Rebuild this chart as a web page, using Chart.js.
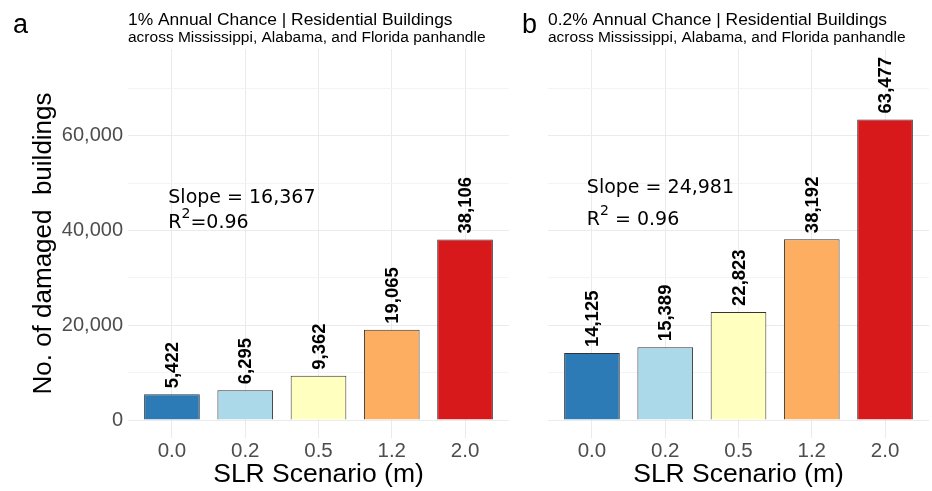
<!DOCTYPE html>
<html>
<head>
<meta charset="utf-8">
<script src="https://cdn.jsdelivr.net/npm/chart.js@4.4.1/dist/chart.umd.min.js"></script>
<style>
  html, body { margin: 0; padding: 0; background: #fff; }
  #wrap { position: relative; width: 932px; height: 491px; }
  canvas { position: absolute; top: 0; }
</style>
</head>
<body>
<div id="wrap">
  <canvas id="panelA" width="515" height="491" style="left:0"></canvas>
  <canvas id="panelB" width="417" height="491" style="left:515px"></canvas>
</div>
<script>
// data
const scenarios = ['0.0', '0.2', '0.5', '1.2', '2.0'];
const damaged1pct = [5422, 6295, 9362, 19065, 38106];
const damaged02pct = [14125, 15389, 22823, 38192, 63477];
const barColors = ['#2c7bb6', '#abd9e9', '#ffffbf', '#fdae61', '#d7191c'];
const yGridValues = [0, 10000, 20000, 30000, 40000, 50000, 60000, 70000];
const panelLetters = ['a', 'b'];
const panelTitles = ['1% Annual Chance | Residential Buildings', '0.2% Annual Chance | Residential Buildings'];
const panelSubtitle = 'across Mississippi, Alabama, and Florida panhandle';
const slopes = [16367, 24981];
const rSquared = ['0.96', '0.96'];

const SANS = "'Liberation Sans', Arial, Helvetica, sans-serif";
const VERDANA = "'DejaVu Sans', Verdana, sans-serif";
Chart.defaults.font.family = SANS;
Chart.defaults.animation = false;

const fmt = v => v.toLocaleString('en-US');

// rotated value labels above bars
const barLabels = {
  id: 'barLabels',
  afterDatasetsDraw(chart) {
    const ctx = chart.ctx;
    const meta = chart.getDatasetMeta(0);
    const data = chart.data.datasets[0].data;
    ctx.save();
    ctx.font = 'bold 18.5px ' + SANS;
    ctx.fillStyle = '#000';
    ctx.textAlign = 'left';
    ctx.textBaseline = 'middle';
    meta.data.forEach((bar, i) => {
      ctx.save();
      ctx.translate(bar.x + 1, bar.y - 6);
      ctx.rotate(-Math.PI / 2);
      ctx.fillText(fmt(data[i].y), 0, 0);
      ctx.restore();
    });
    ctx.restore();
  }
};

// panel letter, titles and slope / R2 note
const panelDecor = {
  id: 'panelDecor',
  afterDraw(chart, args, opts) {
    const ctx = chart.ctx;
    const area = chart.chartArea;
    const xs = chart.scales.x, ys = chart.scales.y;
    ctx.save();
    ctx.fillStyle = '#000';
    ctx.textAlign = 'left';
    ctx.textBaseline = 'alphabetic';

    ctx.font = '27px ' + SANS;
    ctx.fillText(opts.letter, opts.letterX, 33);

    ctx.font = '17.4px ' + SANS;
    ctx.fillText(opts.title, area.left, 25);
    ctx.font = '15.5px ' + SANS;
    ctx.fillText(opts.subtitle, area.left, 42);

    const nx = xs.getPixelForValue(opts.noteX);
    ctx.font = '19px ' + VERDANA;
    ctx.fillText('Slope = ' + fmt(opts.slope), nx, ys.getPixelForValue(opts.slopeY));

    const ry = ys.getPixelForValue(opts.r2Y);
    ctx.fillText('R', nx, ry);
    let w = ctx.measureText('R').width;
    ctx.font = '14px ' + VERDANA;
    ctx.fillText('2', nx + w, ry - 10);
    w += ctx.measureText('2').width;
    ctx.font = '19px ' + VERDANA;
    ctx.fillText(opts.r2Text, nx + w, ry);
    ctx.restore();
  }
};

function makePanel(canvasId, values, idx, showY) {
  return new Chart(document.getElementById(canvasId), {
    type: 'bar',
    data: {
      datasets: [{
        data: scenarios.map((s, i) => ({ x: i, y: values[i] })),
        backgroundColor: barColors,
        borderColor: '#333333',
        borderWidth: 1,
        categoryPercentage: 1,
        barPercentage: 0.76
      }]
    },
    options: {
      responsive: false,
      layout: { padding: { left: 0, top: 49, right: showY ? 6 : 3, bottom: 0 } },
      plugins: {
        legend: { display: false },
        tooltip: { enabled: false },
        panelDecor: {
          letter: panelLetters[idx],
          letterX: showY ? 13 : 7,
          title: panelTitles[idx],
          subtitle: panelSubtitle,
          slope: slopes[idx],
          r2Text: idx === 0 ? '=' + rSquared[idx] : ' = ' + rSquared[idx],
          noteX: idx === 0 ? -0.05 : -0.07,
          slopeY: idx === 0 ? 45800 : 47900,
          r2Y: idx === 0 ? 40500 : 41200
        }
      },
      scales: {
        x: {
          type: 'linear',
          min: -0.6,
          max: 4.6,
          offset: false,
          grid: { color: '#ebebeb', drawTicks: false, offset: false },
          border: { display: false },
          afterBuildTicks: s => { s.ticks = scenarios.map((c, i) => ({ value: i })); },
          ticks: {
            autoSkip: false,
            maxRotation: 0,
            padding: 1,
            color: '#4d4d4d',
            font: { size: 20.5 },
            callback: v => scenarios[v] ?? ''
          },
          title: {
            display: true,
            text: 'SLR Scenario (m)',
            color: '#000',
            font: { size: 26.5 },
            padding: { top: 0, bottom: 0 }
          },
          afterFit: s => { s.height = 53; }
        },
        y: {
          min: -3800,
          max: 78350,
          grid: {
            color: c => c.tick && c.tick.value % 20000 === 0 ? '#ebebeb' : '#f4f4f4',
            drawTicks: false
          },
          border: { display: false },
          afterBuildTicks: s => { s.ticks = yGridValues.map(v => ({ value: v })); },
          ticks: {
            display: showY,
            autoSkip: false,
            padding: 5,
            color: '#4d4d4d',
            font: { size: 20 },
            callback: v => v % 20000 === 0 ? fmt(v) : ''
          },
          title: {
            display: showY,
            text: 'No. of damaged  buildings',
            color: '#000',
            font: { size: 26 },
            padding: { top: 28, bottom: 0 }
          },
          afterFit: s => { s.width = showY ? 128 : 33; }
        }
      }
    },
    plugins: [barLabels, panelDecor]
  });
}

makePanel('panelA', damaged1pct, 0, true);
makePanel('panelB', damaged02pct, 1, false);
</script>
</body>
</html>
